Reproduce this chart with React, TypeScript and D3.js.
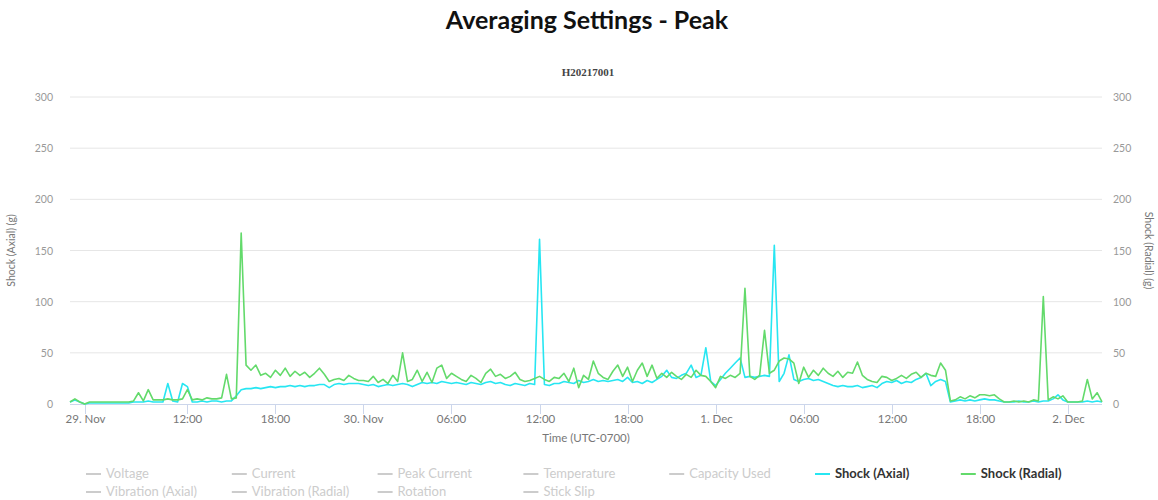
import * as d3 from "d3";

const title = "Averaging Settings - Peak";
const subTitle = "H20217001";

// samples every 20 minutes, starting 29 Nov 04:00 (UTC-0700)
const startTime = Date.UTC(2021, 10, 29, 4, 0);
const stepMinutes = 20;

const shockAxial = [
  2, 4, 2, 0, 1, 1, 1, 1, 1, 1,
  1, 1, 1, 2, 2, 2, 3, 2, 2, 2,
  20, 3, 2, 20, 17, 2, 2, 3, 2, 3,
  3, 2, 3, 3, 8, 14, 15, 15, 16, 15,
  16, 17, 16, 17, 17, 18, 17, 18, 17, 18,
  18, 19, 19, 16, 19, 20, 19, 20, 20, 20,
  19, 18, 19, 17, 18, 19, 18, 19, 20, 19,
  17, 19, 21, 20, 21, 20, 22, 21, 20, 21,
  20, 19, 21, 20, 19, 21, 22, 20, 21, 19,
  18, 20, 19, 18, 20, 19, 161, 19, 18, 20,
  20, 22, 21, 20, 23, 21, 22, 24, 22, 23,
  22, 23, 24, 22, 26, 21, 22, 20, 23, 21,
  24, 27, 33, 26, 25, 28, 30, 38, 26, 28,
  55, 22, 18, 24, 30, 35, 40, 45, 26, 27,
  26, 27, 28, 27, 155, 22, 30, 48, 24, 22,
  24, 25, 23, 24, 22, 20, 18, 17, 18, 17,
  17, 18, 16, 17, 18, 16, 20, 22, 21, 23,
  20, 22, 21, 24, 26, 30, 18, 22, 24, 22,
  2, 3, 4, 3, 4, 3, 4, 5, 4, 4,
  3, 2, 2, 2, 3, 2, 2, 3, 2, 3,
  3, 5, 9, 4, 2, 2, 2, 2, 3, 2, 3, 2,
];

const shockRadial = [
  2, 5, 2, 0, 2, 2, 2, 2, 2, 2,
  2, 2, 2, 3, 11, 3, 14, 4, 4, 4,
  5, 4, 4, 5, 14, 4, 5, 4, 6, 5,
  5, 6, 29, 5, 6, 167, 38, 33, 38, 28,
  30, 26, 33, 28, 35, 27, 32, 28, 31, 26,
  30, 35, 29, 22, 24, 25, 23, 28, 25, 23,
  23, 22, 27, 21, 24, 20, 28, 22, 50, 22,
  24, 33, 22, 31, 21, 35, 38, 25, 30, 27,
  24, 22, 28, 25, 21, 30, 34, 27, 29, 25,
  27, 31, 24, 22, 23, 25, 27, 24, 22, 26,
  25, 30, 22, 35, 16, 28, 24, 42, 30, 26,
  24, 32, 38, 27, 36, 22, 33, 40, 27, 38,
  25, 30, 26, 31, 27, 24, 29, 26, 33, 28,
  27, 22, 16, 27, 25, 28, 26, 30, 113, 27,
  24, 28, 72, 30, 33, 42, 45, 44, 40, 20,
  36, 26, 33, 28, 35, 30, 27, 32, 26, 31,
  30, 41, 28, 24, 22, 21, 27, 26, 23, 25,
  28, 25, 29, 31, 26, 30, 28, 27, 40, 33,
  3, 4, 7, 5, 8, 6, 9, 9, 8, 9,
  5, 2, 2, 3, 2, 3, 2, 4, 3, 105,
  4, 7, 5, 8, 2, 2, 2, 3, 24, 5, 11, 2,
];

const yTicks = [0, 50, 100, 150, 200, 250, 300];

const xTickTimes = [
  Date.UTC(2021, 10, 29, 5), Date.UTC(2021, 10, 29, 12), Date.UTC(2021, 10, 29, 18),
  Date.UTC(2021, 10, 30, 0), Date.UTC(2021, 10, 30, 6), Date.UTC(2021, 10, 30, 12),
  Date.UTC(2021, 10, 30, 18), Date.UTC(2021, 11, 1, 0), Date.UTC(2021, 11, 1, 6),
  Date.UTC(2021, 11, 1, 12), Date.UTC(2021, 11, 1, 18), Date.UTC(2021, 11, 2, 0),
];
const xTickLabels = [
  "29. Nov", "12:00", "18:00", "30. Nov", "06:00", "12:00",
  "18:00", "1. Dec", "06:00", "12:00", "18:00", "2. Dec",
];

const legendRow1 = ["Voltage", "Current", "Peak Current", "Temperature", "Capacity Used", "Shock (Axial)", "Shock (Radial)"];
const legendRow2 = ["Vibration (Axial)", "Vibration (Radial)", "Rotation", "Stick Slip"];

const AXIAL_COLOR = "#27e6f2";
const RADIAL_COLOR = "#63da6b";
const FONT = "Lato, 'Open Sans', sans-serif";

const width = 1158;
const height = 500;
const margin = { left: 70, right: 56, top: 97, bottom: 96 };

export default function App() {
  const n = shockAxial.length;
  const times = d3.range(n).map((i) => new Date(startTime + i * stepMinutes * 60000));

  const x = d3
    .scaleTime()
    .domain([times[0], times[n - 1]])
    .range([margin.left, width - margin.right]);
  const y = d3
    .scaleLinear()
    .domain([0, 300])
    .range([height - margin.bottom, margin.top]);

  const line = d3
    .line<number>()
    .x((_, i) => x(times[i]))
    .y((d) => y(d));

  const plotLeft = margin.left;
  const plotRight = width - margin.right;
  const plotBottom = height - margin.bottom;
  const midY = (margin.top + plotBottom) / 2;

  const legendX = (i: number) => 86 + i * 145.8;

  return (
    <svg
      width={width}
      height={height}
      style={{ position: "absolute", left: 0, top: 0, background: "#fff" }}
      fontFamily={FONT}
    >
      <text x={587} y={29} textAnchor="middle" fontSize={25} fontWeight={700} fill="#111">
        {title}
      </text>
      <text
        x={588}
        y={76}
        textAnchor="middle"
        fontSize={11}
        fontWeight={700}
        fontFamily="'Liberation Serif', serif"
        fill="#444"
      >
        {subTitle}
      </text>

      {/* grid + y labels on both sides */}
      {yTicks.map((t) => (
        <g key={t}>
          {t > 0 && (
            <line x1={plotLeft} x2={plotRight} y1={y(t)} y2={y(t)} stroke="#e6e6e6" strokeWidth={1} />
          )}
          <text x={53} y={y(t) + 4} textAnchor="end" fontSize={10.5} fill="#999">
            {t}
          </text>
          <text x={1113} y={y(t) + 4} textAnchor="start" fontSize={10.5} fill="#999">
            {t}
          </text>
        </g>
      ))}

      <text
        transform={`translate(15, ${midY}) rotate(-90)`}
        textAnchor="middle"
        fontSize={10.5}
        fill="#777"
      >
        Shock (Axial) (g)
      </text>
      <text
        transform={`translate(1145, ${midY}) rotate(90)`}
        textAnchor="middle"
        fontSize={10.5}
        fill="#777"
      >
        Shock (Radial) (g)
      </text>

      {/* x axis */}
      <line x1={plotLeft} x2={plotRight} y1={plotBottom + 0.5} y2={plotBottom + 0.5} stroke="#ccd6eb" />
      {xTickTimes.map((t, i) => {
        const px = Math.round(x(new Date(t))) + 0.5;
        return (
          <g key={t}>
            <line x1={px} x2={px} y1={plotBottom} y2={plotBottom + 10} stroke="#ccd6eb" />
            <text x={px} y={plotBottom + 19} textAnchor="middle" fontSize={11.5} fill="#777">
              {xTickLabels[i]}
            </text>
          </g>
        );
      })}
      <text x={586} y={442} textAnchor="middle" fontSize={11.5} fill="#777">
        Time (UTC-0700)
      </text>

      {/* series */}
      <path d={line(shockAxial) ?? ""} fill="none" stroke={AXIAL_COLOR} strokeWidth={1.6} strokeLinejoin="round" />
      <path d={line(shockRadial) ?? ""} fill="none" stroke={RADIAL_COLOR} strokeWidth={1.6} strokeLinejoin="round" />

      {/* legend */}
      {legendRow1.map((name, i) => {
        const active = i >= 5;
        const color = name === "Shock (Axial)" ? AXIAL_COLOR : name === "Shock (Radial)" ? RADIAL_COLOR : "#cccccc";
        return (
          <g key={name} transform={`translate(${legendX(i)}, 474)`}>
            <line x1={0} x2={15} y1={0} y2={0} stroke={color} strokeWidth={2} />
            <text x={20} y={4} fontSize={13} fontWeight={active ? 700 : 400} fill={active ? "#333" : "#cccccc"}>
              {name}
            </text>
          </g>
        );
      })}
      {legendRow2.map((name, i) => (
        <g key={name} transform={`translate(${legendX(i)}, 492)`}>
          <line x1={0} x2={15} y1={0} y2={0} stroke="#cccccc" strokeWidth={2} />
          <text x={20} y={4} fontSize={13} fill="#cccccc">
            {name}
          </text>
        </g>
      ))}
    </svg>
  );
}
